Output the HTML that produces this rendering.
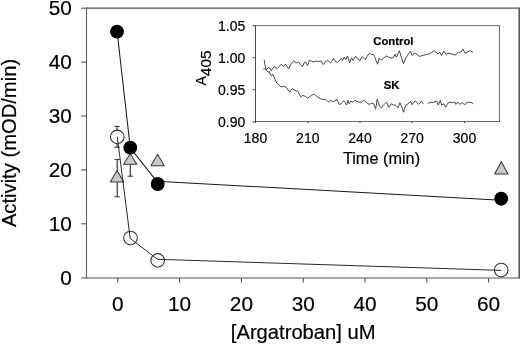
<!DOCTYPE html>
<html><head><meta charset="utf-8"><style>
html,body{margin:0;padding:0;background:#fff;width:520px;height:344px;overflow:hidden}
svg{display:block;filter:grayscale(1)}
text{font-family:"Liberation Sans",sans-serif;fill:#000;stroke:#000;stroke-width:0.2px}
.t20{font-size:20.2px}
.t21{font-size:20.8px}
.t16{font-size:16px}
.t14{font-size:14px}
.b11{font-size:11.3px;font-weight:bold}
</style></head><body>
<svg width="520" height="344" viewBox="0 0 520 344">
<rect width="520" height="344" fill="#fff"/>
<line x1="86.5" y1="8.2" x2="519.2" y2="8.2" stroke="#555" stroke-width="1.2"/>
<line x1="86.5" y1="278.0" x2="519.2" y2="278.0" stroke="#555" stroke-width="1.1"/>
<line x1="86.5" y1="7.6" x2="86.5" y2="278.6" stroke="#606060" stroke-width="1.1"/>
<line x1="519.2" y1="7.6" x2="519.2" y2="278.6" stroke="#444" stroke-width="1.4"/>
<line x1="81.2" y1="278.0" x2="86.5" y2="278.0" stroke="#444" stroke-width="1"/>
<text x="71.8" y="285.0" text-anchor="end" class="t21">0</text>
<line x1="81.2" y1="223.8" x2="86.5" y2="223.8" stroke="#444" stroke-width="1"/>
<text x="71.8" y="230.8" text-anchor="end" class="t21">10</text>
<line x1="81.2" y1="169.9" x2="86.5" y2="169.9" stroke="#444" stroke-width="1"/>
<text x="71.8" y="176.9" text-anchor="end" class="t21">20</text>
<line x1="81.2" y1="116.0" x2="86.5" y2="116.0" stroke="#444" stroke-width="1"/>
<text x="71.8" y="123.0" text-anchor="end" class="t21">30</text>
<line x1="81.2" y1="62.1" x2="86.5" y2="62.1" stroke="#444" stroke-width="1"/>
<text x="71.8" y="69.1" text-anchor="end" class="t21">40</text>
<line x1="81.2" y1="8.2" x2="86.5" y2="8.2" stroke="#444" stroke-width="1"/>
<text x="71.8" y="15.2" text-anchor="end" class="t21">50</text>
<line x1="117.8" y1="278.0" x2="117.8" y2="282.5" stroke="#444" stroke-width="1"/>
<text x="117.8" y="311" text-anchor="middle" class="t21">0</text>
<line x1="179.6" y1="278.0" x2="179.6" y2="282.5" stroke="#444" stroke-width="1"/>
<text x="179.6" y="311" text-anchor="middle" class="t21">10</text>
<line x1="241.4" y1="278.0" x2="241.4" y2="282.5" stroke="#444" stroke-width="1"/>
<text x="241.4" y="311" text-anchor="middle" class="t21">20</text>
<line x1="303.2" y1="278.0" x2="303.2" y2="282.5" stroke="#444" stroke-width="1"/>
<text x="303.2" y="311" text-anchor="middle" class="t21">30</text>
<line x1="365.0" y1="278.0" x2="365.0" y2="282.5" stroke="#444" stroke-width="1"/>
<text x="365.0" y="311" text-anchor="middle" class="t21">40</text>
<line x1="426.8" y1="278.0" x2="426.8" y2="282.5" stroke="#444" stroke-width="1"/>
<text x="426.8" y="311" text-anchor="middle" class="t21">50</text>
<line x1="488.6" y1="278.0" x2="488.6" y2="282.5" stroke="#444" stroke-width="1"/>
<text x="488.6" y="311" text-anchor="middle" class="t21">60</text>
<text x="303.2" y="339" text-anchor="middle" class="t20">[Argatroban] uM</text>
<text transform="translate(16.3,143) rotate(-90)" text-anchor="middle" class="t20">Activity (mOD/min)</text>
<line x1="117.1" y1="126.4" x2="117.1" y2="147.3" stroke="#222" stroke-width="1.1"/>
<line x1="114.35" y1="126.4" x2="119.85" y2="126.4" stroke="#333" stroke-width="1"/>
<line x1="114.35" y1="147.3" x2="119.85" y2="147.3" stroke="#333" stroke-width="1"/>
<line x1="117.2" y1="159.4" x2="117.2" y2="196.8" stroke="#222" stroke-width="1.1"/>
<line x1="114.45" y1="159.4" x2="119.95" y2="159.4" stroke="#333" stroke-width="1"/>
<line x1="114.45" y1="196.8" x2="119.95" y2="196.8" stroke="#333" stroke-width="1"/>
<line x1="130.3" y1="145.5" x2="130.3" y2="176.2" stroke="#222" stroke-width="1.1"/>
<line x1="127.55000000000001" y1="145.5" x2="133.05" y2="145.5" stroke="#333" stroke-width="1"/>
<line x1="127.55000000000001" y1="176.2" x2="133.05" y2="176.2" stroke="#333" stroke-width="1"/>
<polygon points="117.0,170.5 110.3,181.9 123.7,181.9" fill="#c9c9c9" stroke="#3a3a3a" stroke-width="1.05" stroke-linejoin="round"/>
<polygon points="130.2,153.8 123.49999999999999,164.2 136.89999999999998,164.2" fill="#c9c9c9" stroke="#3a3a3a" stroke-width="1.05" stroke-linejoin="round"/>
<polygon points="157.6,154.2 150.9,165.8 164.29999999999998,165.8" fill="#c9c9c9" stroke="#3a3a3a" stroke-width="1.05" stroke-linejoin="round"/>
<polygon points="501.3,161.8 494.6,174.0 508.0,174.0" fill="#c9c9c9" stroke="#3a3a3a" stroke-width="1.05" stroke-linejoin="round"/>
<circle cx="117.3" cy="136.9" r="6.8" fill="#fff" stroke="#333" stroke-width="1.1"/>
<circle cx="130.5" cy="238.0" r="6.8" fill="#fff" stroke="#333" stroke-width="1.1"/>
<circle cx="157.7" cy="260.4" r="6.8" fill="#fff" stroke="#333" stroke-width="1.1"/>
<circle cx="501.2" cy="270.0" r="6.8" fill="#fff" stroke="#333" stroke-width="1.1"/>
<polyline points="117.3,136.9 130.2,238.4 157.5,259.3 501.4,270.4" fill="none" stroke="#2a2a2a" stroke-width="1.0"/>
<polyline points="117.1,31.5 130.3,148.0 156.6,181.2 501.1,200.2" fill="none" stroke="#1a1a1a" stroke-width="1.05"/>
<circle cx="117.0" cy="31.6" r="6.95" fill="#000"/>
<circle cx="130.3" cy="147.6" r="6.95" fill="#000"/>
<circle cx="157.7" cy="184.0" r="6.95" fill="#000"/>
<circle cx="501.2" cy="198.7" r="6.95" fill="#000"/>
<rect x="255.5" y="25.7" width="244.0" height="95.8" fill="#fff" stroke="#6a6a6a" stroke-width="1"/>
<line x1="255.5" y1="25.7" x2="255.5" y2="121.5" stroke="#4a4a4a" stroke-width="1"/>
<line x1="252.5" y1="121.8" x2="255.5" y2="121.8" stroke="#444" stroke-width="1"/>
<text x="245.3" y="126.8" text-anchor="end" class="t14">0.90</text>
<line x1="252.5" y1="89.8" x2="255.5" y2="89.8" stroke="#444" stroke-width="1"/>
<text x="245.3" y="94.8" text-anchor="end" class="t14">0.95</text>
<line x1="252.5" y1="57.8" x2="255.5" y2="57.8" stroke="#444" stroke-width="1"/>
<text x="245.3" y="62.8" text-anchor="end" class="t14">1.00</text>
<line x1="252.5" y1="25.8" x2="255.5" y2="25.8" stroke="#444" stroke-width="1"/>
<text x="245.3" y="30.8" text-anchor="end" class="t14">1.05</text>
<line x1="255.5" y1="121.5" x2="255.5" y2="123.0" stroke="#444" stroke-width="1"/>
<text x="255.5" y="143.2" text-anchor="middle" class="t14">180</text>
<line x1="307.8" y1="121.5" x2="307.8" y2="123.0" stroke="#444" stroke-width="1"/>
<text x="307.8" y="143.2" text-anchor="middle" class="t14">210</text>
<line x1="360.0" y1="121.5" x2="360.0" y2="123.0" stroke="#444" stroke-width="1"/>
<text x="360.0" y="143.2" text-anchor="middle" class="t14">240</text>
<line x1="412.2" y1="121.5" x2="412.2" y2="123.0" stroke="#444" stroke-width="1"/>
<text x="412.2" y="143.2" text-anchor="middle" class="t14">270</text>
<line x1="464.5" y1="121.5" x2="464.5" y2="123.0" stroke="#444" stroke-width="1"/>
<text x="464.5" y="143.2" text-anchor="middle" class="t14">300</text>
<text x="342.9" y="164.2" class="t16" style="font-size:16.3px">Time (min)</text>
<text transform="translate(206.1,85.5) rotate(-90)" class="t14">A<tspan dy="4.6" style="font-size:15.5px">405</tspan></text>
<text x="373.3" y="44.6" class="b11">Control</text>
<text x="383.8" y="89.3" class="b11">SK</text>
<polyline points="263.3,68.9 264.2,68.7 266.4,69.6 269,67.4 271.2,70.5 274.2,66.6 277.3,68.5 281.2,64.4 283.4,66.6 285.5,64 288.6,69 290.8,64.4 293.4,60.9 296.9,63.1 298.6,61.8 300.4,64.4 302.4,66.8 304.6,62 305.9,62.4 307.6,65.5 309.4,60.3 311.1,60.9 313.7,62 315.9,61.1 318.5,61.6 321.2,61.1 323.3,64.6 325.5,61.6 327.7,60.5 330.7,62.9 333.5,58.3 335.2,61.4 337.4,62.5 339.6,60.1 341.3,58.7 342.6,60.5 344.4,57 345.7,59.6 347.4,56.1 348.7,59.6 349.6,63.1 351.4,57.9 353.1,60.5 355.3,56.6 357.5,57.9 359.6,60.9 362.3,56.6 365.3,59.6 366.7,56.8 369.4,53.3 371.5,54.6 373.3,54.2 374.6,56.4 375.9,60.3 377.6,64.2 378.9,58.5 381.6,59.8 383.7,58.1 386.4,55.9 388.5,57.2 391.2,58.1 393.3,57.7 395.1,54.2 396.4,57.2 399.4,50.7 401.6,58.1 403.5,63.8 405.7,58.1 408.3,54.2 410.5,51.1 412.2,55.5 414.4,53.3 416.1,53.7 419.2,56.4 422.7,55.5 426.2,54.6 429.6,53.7 431.8,52.4 434.4,50.7 436.3,52.4 438.1,54.2 439.8,52 441.5,55.5 443.7,51.1 445.9,54.2 449,53.3 452.4,54.2 455.5,54.9 458.5,52.4 461.2,52 462.9,49 465.1,53.3 467.3,52 470.3,50.7 472.9,52" fill="none" stroke="#333" stroke-width="0.9" stroke-linejoin="round"/>
<polyline points="264.2,60 265,64.8 265.9,69.2 266.8,70.9 268.1,72.2 269.4,71.8 271.2,75.7 272.9,74.4 275.1,79.6 276.9,83.4 278.6,84.5 280.9,86.9 283.8,86.3 286.2,87.4 289.7,92.1 292,88.6 294.9,90.3 297.9,91.3 300.8,96.9 302.6,95.3 305.5,96.5 307.8,98.3 311.3,95.3 314.2,94.2 317.1,96.5 320.6,98.8 322.9,99.4 325.8,99.4 328.7,102.3 330.5,100.3 332.3,101.5 334.7,100.9 337,99.2 339.1,104.4 341,103.8 343.4,100.7 344.9,102.1 346.5,105 348,100.3 349.2,103.8 350.9,101.2 352.7,102.1 355,100.3 358.5,102.1 361.4,102.4 363.7,100 366.7,102.7 369.1,104.4 371.4,103.3 373.7,103.8 375.7,109.1 377.2,99.2 379.5,106.2 381.3,107.9 383.6,105 386.5,102.1 388.8,107.3 391.2,103.8 393.5,105 395.8,105.3 398.1,107.9 399.9,102.7 402.2,107.9 403.5,112.3 405.8,105 408.1,103.8 410.5,101.5 412.2,104.7 415.1,100.7 418.6,104.4 421.5,101.2 423.3,103.8" fill="none" stroke="#333" stroke-width="0.9" stroke-linejoin="round"/>
<polyline points="427.9,103.3 430.8,102.3 433.7,102.3 436.6,100.9 438.3,105 440.2,100.3 441.7,105 443.7,103.8 445.7,107.3 447.8,103.3 450.1,102.1 452.4,102.7 454.8,102.1 455.9,104.4 457.7,102.1 460,104.4 462.3,102.7 464.7,105 466.4,102.7 469.3,102.1 471,102.3 473.4,103.8" fill="none" stroke="#333" stroke-width="0.9" stroke-linejoin="round"/>
</svg>
</body></html>
